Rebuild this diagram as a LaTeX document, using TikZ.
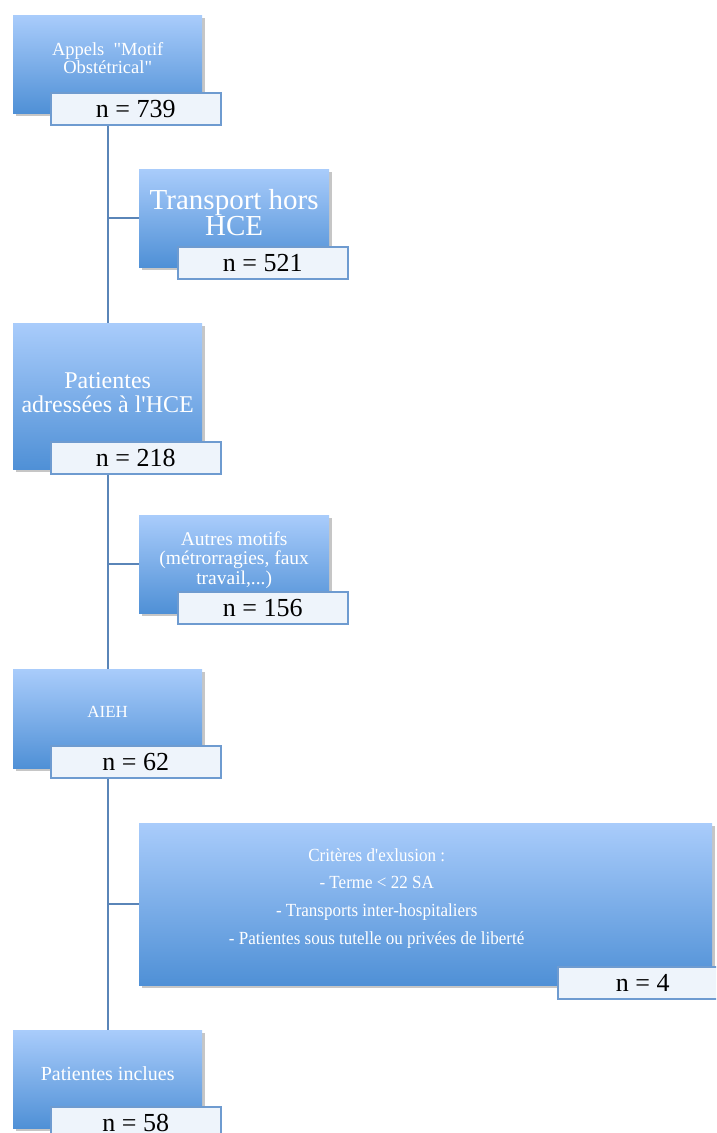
\documentclass[tikz,border=0pt]{standalone}
\usepackage{fontspec}
\setmainfont{Liberation Serif}
\usetikzlibrary{shadows}

\definecolor{boxtop}{HTML}{A9CCFB}
\definecolor{boxbot}{HTML}{4F90D6}
\definecolor{linkblue}{HTML}{5A85B8}
\definecolor{countedge}{HTML}{6E9BD0}
\definecolor{countfill}{HTML}{EEF4FB}

\begin{document}
\begin{tikzpicture}[x=1pt,y=-1pt,
  stagebox/.style={anchor=north west,inner sep=0pt,
    top color=boxtop,bottom color=boxbot,
    drop shadow={shadow xshift=3pt,shadow yshift=-3pt,fill=black!50,opacity=0.45}},
  stagetext/.style={align=center,text=white,inner sep=0pt},
  countbox/.style={anchor=north west,inner sep=0pt,draw=countedge,line width=1.5pt,
    fill=countfill,minimum width=170pt,minimum height=32pt,
    font=\fontsize{26}{28}\selectfont},
  link/.style={draw=linkblue,line width=2pt}]
  \useasboundingbox (0,0) rectangle (716,1133);
  \clip (0,0) rectangle (716,1133);

  \node[stagebox,minimum width=189pt,minimum height=98pt] (appels) at (13,15) {};
  \node[stagetext,font=\fontsize{18.5}{18}\selectfont] at ([yshift=6pt]appels.center)
    {Appels \ \textquotedbl Motif\\Obstétrical\textquotedbl};
  \node[countbox] (n739) at (50,92) {n = 739};

  \node[stagebox,minimum width=190pt,minimum height=98pt] (transport) at (139,169) {};
  \node[stagetext,font=\fontsize{29}{26}\selectfont] at ([yshift=6pt]transport.center)
    {Transport hors\\HCE};
  \node[countbox] (n521) at (177,246) {n = 521};

  \node[stagebox,minimum width=189pt,minimum height=146pt] (adressees) at (13,323) {};
  \node[stagetext,font=\fontsize{24}{24}\selectfont] at ([yshift=4pt]adressees.center)
    {Patientes\\adressées à l\textquotesingle HCE};
  \node[countbox] (n218) at (50,441) {n = 218};

  \node[stagebox,minimum width=190pt,minimum height=98pt] (autres) at (139,515) {};
  \node[stagetext,font=\fontsize{19.5}{19.5}\selectfont] at ([yshift=4pt]autres.center)
    {Autres motifs\\(métrorragies, faux\\travail,...)};
  \node[countbox] (n156) at (177,591) {n = 156};

  \node[stagebox,minimum width=189pt,minimum height=99pt] (aieh) at (13,669) {};
  \node[stagetext,font=\fontsize{17}{20}\selectfont] at ([yshift=7pt]aieh.center) {AIEH};
  \node[countbox] (n62) at (50,745) {n = 62};

  \node[stagebox,minimum width=573pt,minimum height=162pt] (criteres) at (139,823) {};
  \node[stagetext,font=\fontsize{18.5}{27.7}\selectfont\addfontfeature{FakeStretch=0.92}]
    at ([xshift=-49pt,yshift=6pt]criteres.center)
    {Critères d\textquotesingle exlusion :\\- Terme < 22 SA\\- Transports inter-hospitaliers\\- Patientes sous tutelle ou privées de liberté};
  \node[countbox] (n4) at (557,966) {n = 4};

  \node[stagebox,minimum width=189pt,minimum height=98pt] (inclues) at (13,1030) {};
  \node[stagetext,font=\fontsize{20}{20}\selectfont] at ([yshift=6pt]inclues.center)
    {Patientes inclues};
  \node[countbox] (n58) at (50,1106) {n = 58};

  \draw[link] (n739.south -| appels.south) -- (adressees.north);
  \draw[link] (n218.south -| adressees.south) -- (aieh.north);
  \draw[link] (n62.south -| aieh.south) -- (inclues.north);
  \draw[link] (transport.west -| appels.south) -- (transport.west);
  \draw[link] (autres.west -| adressees.south) -- (autres.west);
  \draw[link] (criteres.west -| aieh.south) -- (criteres.west);
\end{tikzpicture}
\end{document}
